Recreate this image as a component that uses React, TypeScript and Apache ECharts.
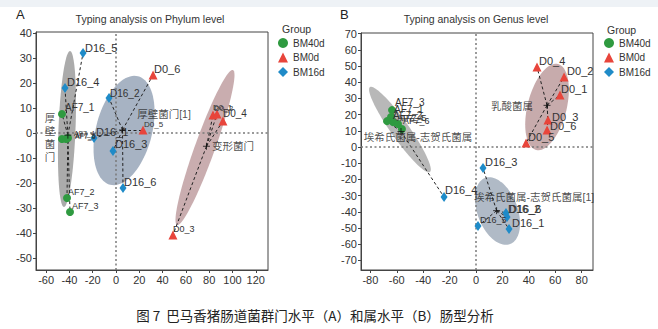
import React, { useEffect, useRef } from 'react';
import * as echarts from 'echarts';

// ---------- data ----------
const groups = ['BM40d', 'BM0d', 'BM16d'];
const sampleNames = [
  'AF7_1', 'AF7_2', 'AF7_3', 'AF7_4', 'AF7_5', 'AF7_6',
  'D0_1', 'D0_2', 'D0_3', 'D0_4', 'D0_5', 'D0_6',
  'D16_1', 'D16_2', 'D16_3', 'D16_4', 'D16_5', 'D16_6',
];
const sampleGroup = [0, 0, 0, 0, 0, 0, 1, 1, 1, 1, 1, 1, 2, 2, 2, 2, 2, 2];

// Panel A: phylum level
const phylumX = [-46.4, -42.1, -39.5, -46.4, -42.9, -41.2, 83.3, 86.7, 48.9, 91.8, 23.2, 31.8, -18.9, -6, -2.6, -43.8, -28.3, 6];
const phylumY = [7.6, -26, -31.6, -2.4, -2.4, -2, 7.2, 7.6, -40.8, 4.8, 1.2, 23.2, -2, 14, -7.2, 18, 32, -22];
const phylumCluster = [0, 0, 0, 0, 0, 0, 2, 2, 2, 2, 1, 1, 1, 1, 1, 0, 0, 1];
const phylumClusterNames = ['厚壁菌门', '厚壁菌门[1]', '变形菌门'];
// ellipse: centre x, centre y, semi-axis u (x,y), semi-axis v (x,y)
const phylumEllipses = [
  [-42.1, 1.6, 2.6, 31.2, 7.3, -0.13],
  [6.9, 1.0, 12, 21.7, 23.3, -2.8],
  [76.4, -5.8, 24, 31, 8.1, -1.36],
];
const phylumXTicks = [-60, -40, -20, 0, 20, 40, 60, 80, 100, 120];
const phylumYTicks = [-50, -40, -30, -20, -10, 0, 10, 20, 30, 40];

// Panel B: genus level
const genusX = [-64.4, -62.9, -63.6, -67.4, -59.1, -56.1, 63.6, 66.7, 54.5, 46.2, 37.9, 53.8, 25, 22.7, 5.3, -24.2, 1.5, 23.5];
const genusY = [18.5, 15.4, 22.8, 16, 14.2, 11.1, 32.1, 43.2, 16.7, 49.4, 2.5, 10.5, -50.6, -40.7, -13, -30.9, -48.8, -43.2];
const genusCluster = [0, 0, 0, 0, 0, 0, 2, 2, 2, 2, 2, 2, 1, 1, 1, 0, 1, 1];
const genusClusterNames = ['埃希氏菌属-志贺氏菌属', '埃希氏菌属-志贺氏菌属[1]', '乳酸菌属'];
const genusEllipses = [
  [-57.6, 10.8, 22.7, -26.2, 5.6, 3.2],
  [16.3, -39.5, 9.5, -20.4, 14.2, 4.4],
  [53.8, 24.7, 8.3, 26.5, 14.3, -3.0],
];
const genusXTicks = [-80, -60, -40, -20, 0, 20, 40, 60, 80];
const genusYTicks = [-70, -60, -50, -40, -30, -20, -10, 0, 10, 20, 30, 40, 50, 60, 70];

// ---------- styles ----------
const FONT = '"Liberation Sans", Arial, "Noto Sans CJK SC", sans-serif';
const groupColors = ['#2f9a40', '#e8453b', '#1f8bc8'];
const groupSymbols: any[] = ['circle', 'triangle', 'diamond'];
const groupSymbolSizes: any[] = [8, 9, [7, 10]];
const ellipseColorsA = ['#ababab', '#a7b3c3', '#c9adaf'];
const ellipseColorsB = ['#b8b8b8', '#b0bac6', '#c7abac'];

// label placement [dx, dy, fontSize] relative to the point (px)
const phylumLabelStyle: Record<string, number[]> = {
  AF7_1: [3, -7, 10], AF7_2: [1, -6, 9], AF7_3: [2, -6, 9],
  AF7_4: [12, -6, 7], AF7_5: [9, -4, 7], AF7_6: [7, -2, 7],
  D0_1: [0, -8, 8], D0_2: [-3, -6, 8], D0_3: [0, -6, 9], D0_4: [0, -8, 10], D0_5: [1, -6, 8], D0_6: [1, -6, 11],
  D16_1: [2, -6, 11], D16_2: [1, -5, 10], D16_3: [2, -7, 11], D16_4: [2, -6, 11], D16_5: [2, -5, 11], D16_6: [1, -6, 11],
};
const genusLabelStyle: Record<string, number[]> = {
  AF7_1: [3, -8, 10], AF7_2: [0, -7, 10], AF7_3: [3, -8, 10],
  AF7_4: [10, -3, 9], AF7_5: [2, -6, 9], AF7_6: [1, -8, 9],
  D0_1: [1, -6, 11], D0_2: [3, -6, 11], D0_3: [4, -3, 11], D0_4: [2, -6, 11], D0_5: [2, -6, 11], D0_6: [3, -4, 11],
  D16_1: [3, -6, 11], D16_2: [2, -4, 11], D16_3: [2, -6, 11], D16_4: [1, -7, 11], D16_5: [2, -6, 9], D16_6: [2, -8, 11],
};
// cluster label offsets from centroid [dx, dy] (px, text centred)
const phylumClusterLabelOffsets = [[-18, 2], [41.5, -16], [26.5, 0]];
const genusClusterLabelOffsets = [[17, 5.5], [37.5, -13.5], [-35, 1]];

function buildPanel(
  idx: number,
  xs: number[],
  ys: number[],
  clusters: number[],
  clusterNames: string[],
  ellipses: number[][],
  ellipseColors: string[],
  labelStyle: Record<string, number[]>,
  clusterOffsets: number[][]
) {
  const series: any[] = [];
  // ellipses
  series.push({
    type: 'custom',
    xAxisIndex: idx,
    yAxisIndex: idx,
    z: 1,
    silent: true,
    data: ellipses.map((e, i) => [...e, i]),
    encode: { x: 0, y: 1 },
    renderItem: (params: any, api: any) => {
      const cx = api.value(0), cy = api.value(1);
      const ux = api.value(2), uy = api.value(3);
      const vx = api.value(4), vy = api.value(5);
      const k = api.value(6);
      const pts: number[][] = [];
      const n = 90;
      for (let j = 0; j < n; j++) {
        const t = (2 * Math.PI * j) / n;
        pts.push(api.coord([cx + ux * Math.cos(t) + vx * Math.sin(t), cy + uy * Math.cos(t) + vy * Math.sin(t)]));
      }
      return { type: 'polygon', shape: { points: pts }, style: { fill: ellipseColors[k] } };
    },
  });
  // centroids
  const cents = clusterNames.map((_, c) => {
    let sx = 0, sy = 0, m = 0;
    xs.forEach((x, i) => {
      if (clusters[i] === c) { sx += x; sy += ys[i]; m++; }
    });
    return [sx / m, sy / m];
  });
  // spider lines
  series.push({
    type: 'lines',
    coordinateSystem: 'cartesian2d',
    xAxisIndex: idx,
    yAxisIndex: idx,
    z: 2,
    silent: true,
    lineStyle: { color: '#222', width: 1, type: [3, 2.5], opacity: 1 },
    data: xs.map((x, i) => ({ coords: [cents[clusters[i]], [x, ys[i]]] })),
  });
  // groups
  groups.forEach((g, gi) => {
    const s: any = {
      type: 'scatter',
      name: g,
      xAxisIndex: idx,
      yAxisIndex: idx,
      z: 4,
      symbol: groupSymbols[gi],
      symbolSize: groupSymbolSizes[gi],
      itemStyle: { color: groupColors[gi], opacity: 1 },
      label: {
        show: true,
        formatter: '{b}',
        position: 'inside',
        align: 'left',
        verticalAlign: 'middle',
        color: '#333',
        fontFamily: FONT,
      },
      data: sampleNames
        .map((nm, i) => ({ nm, i }))
        .filter((d) => sampleGroup[d.i] === gi)
        .map((d) => {
          const st = labelStyle[d.nm] || [2, -6, 10];
          return {
            name: d.nm,
            value: [xs[d.i], ys[d.i]],
            label: { offset: [st[0], st[1]], fontSize: st[2] },
          };
        }),
    };
    if (gi === 0) {
      s.markLine = {
        silent: true,
        symbol: ['none', 'none'],
        label: { show: false },
        lineStyle: { type: [2, 2.5], color: '#7a7a7a', width: 1.5 },
        data: [{ xAxis: 0 }, { yAxis: 0 }],
        z: 3,
      };
    }
    series.push(s);
  });
  // centroid markers and cluster labels
  series.push({
    type: 'scatter',
    name: 'centroid' + idx,
    xAxisIndex: idx,
    yAxisIndex: idx,
    z: 5,
    symbol: 'path://M0,5L10,5M5,0L5,10',
    symbolSize: 7,
    itemStyle: { color: 'none', borderColor: '#111', borderWidth: 1 },
    label: {
      show: true,
      formatter: '{b}',
      position: 'inside',
      align: 'center',
      verticalAlign: 'middle',
      color: '#222',
      fontFamily: FONT,
      fontSize: 10.5,
    },
    data: cents.map((c, ci) => ({
      name: ci === 0 && idx === 0 ? clusterNames[ci].split('').join('\n') : clusterNames[ci],
      value: c,
      label: { offset: clusterOffsets[ci], lineHeight: ci === 0 && idx === 0 ? 13 : 12 },
    })),
  });
  return series;
}

function axis(gridIndex: number, min: number, max: number, ticks: number[]) {
  return {
    type: 'value',
    gridIndex,
    min,
    max,
    axisLine: { show: true, onZero: false, lineStyle: { color: '#444', width: 1 } },
    axisTick: { show: true, length: 3, customValues: ticks, lineStyle: { color: '#444' } },
    axisLabel: { customValues: ticks, fontSize: 11, color: '#333', margin: 4, fontFamily: FONT },
    splitLine: { show: false },
  };
}

export default function App() {
  const ref = useRef<HTMLDivElement>(null);
  useEffect(() => {
    if (!ref.current) return;
    const chart = echarts.init(ref.current, undefined, { renderer: 'svg' });
    const legendBase = {
      orient: 'vertical',
      top: 38,
      itemWidth: 10,
      itemHeight: 10,
      itemGap: 4.5,
      padding: 0,
      selectedMode: false,
      data: groups,
      textStyle: { fontSize: 10, color: '#333', fontFamily: FONT },
    };
    const option: any = {
      animation: false,
      backgroundColor: '#ffffff',
      grid: [
        { left: 36, top: 32, width: 232, height: 238, show: true, borderColor: '#444', borderWidth: 1 },
        { left: 361, top: 33, width: 232, height: 237, show: true, borderColor: '#444', borderWidth: 1 },
      ],
      xAxis: [axis(0, -68.7, 130.5, phylumXTicks), axis(1, -87.1, 88.6, genusXTicks)],
      yAxis: [axis(0, -54.8, 40.4, phylumYTicks), axis(1, -75.9, 70.4, genusYTicks)],
      title: [
        { text: 'Typing analysis on Phylum level', left: 150, top: 14, textAlign: 'center', padding: 0, textStyle: { fontSize: 10.5, fontWeight: 'normal', color: '#333', fontFamily: FONT } },
        { text: 'Typing analysis on Genus level', left: 476, top: 14, textAlign: 'center', padding: 0, textStyle: { fontSize: 10.5, fontWeight: 'normal', color: '#333', fontFamily: FONT } },
      ],
      legend: [
        { ...legendBase, left: 278 },
        { ...legendBase, left: 604 },
      ],
      graphic: [
        { type: 'rect', left: 0, top: 0, shape: { width: 658, height: 7 }, style: { fill: '#eef2f6' }, silent: true },
        { type: 'text', left: 16, top: 8, style: { text: 'A', fontSize: 13, fill: '#222', fontFamily: FONT } },
        { type: 'text', left: 340, top: 8, style: { text: 'B', fontSize: 13, fill: '#222', fontFamily: FONT } },
        { type: 'text', left: 282, top: 24, style: { text: 'Group', fontSize: 10.5, fill: '#333', fontFamily: FONT } },
        { type: 'text', left: 607, top: 25, style: { text: 'Group', fontSize: 10.5, fill: '#333', fontFamily: FONT } },
        {
          type: 'text',
          x: 315,
          y: 315,
          style: {
            text: '图 7  巴马香猪肠道菌群门水平（A）和属水平（B）肠型分析',
            fontSize: 13.5,
            fill: '#222',
            align: 'center',
            verticalAlign: 'middle',
            fontFamily: '"Noto Sans CJK SC", sans-serif',
          },
        },
      ],
      series: [
        ...buildPanel(0, phylumX, phylumY, phylumCluster, phylumClusterNames, phylumEllipses, ellipseColorsA, phylumLabelStyle, phylumClusterLabelOffsets),
        ...buildPanel(1, genusX, genusY, genusCluster, genusClusterNames, genusEllipses, ellipseColorsB, genusLabelStyle, genusClusterLabelOffsets),
      ],
    };
    chart.setOption(option);
    return () => chart.dispose();
  }, []);
  return (
    <div
      ref={ref}
      style={{ position: 'fixed', left: 0, top: 0, width: 658, height: 329, background: '#fff' }}
    />
  );
}
